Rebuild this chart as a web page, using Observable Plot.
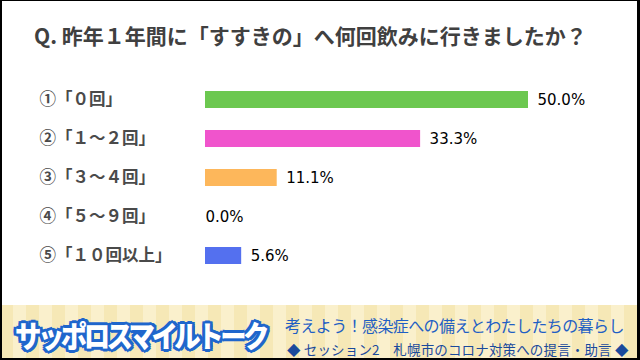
<!DOCTYPE html>
<html><head><meta charset="utf-8">
<script src="https://cdn.jsdelivr.net/npm/d3@7"></script>
<script src="https://cdn.jsdelivr.net/npm/@observablehq/plot@0.6"></script>
<style>
html,body{margin:0;padding:0;background:#fff;}
#wrap{position:relative;width:640px;height:360px;overflow:hidden;background:#fff;font-family:"Noto Sans CJK JP","Noto Sans",sans-serif;}
#frame{position:absolute;left:0;top:0;width:640px;height:360px;box-sizing:border-box;border-left:2px solid #000;border-right:3px solid #000;border-top:1px solid #000;border-bottom:2px solid #000;pointer-events:none;z-index:5;}
#title{position:absolute;left:34px;top:21px;font-size:21px;font-weight:700;color:#404040;line-height:28px;white-space:nowrap;}
#chart{position:absolute;left:0;top:60px;}
#banner{position:absolute;left:0;top:305px;width:640px;height:55px;background:repeating-linear-gradient(to right,#f6e8b6 0px,#f6e8b6 13px,#faf0cc 13px,#faf0cc 26px);}
#logo{position:absolute;left:15px;top:12px;font-size:30px;font-weight:900;color:#fff;letter-spacing:-4px;line-height:34px;white-space:nowrap;transform-origin:0 50%;transform:scaleX(0.88);
text-shadow:2px 0 #1f66cc,-2px 0 #1f66cc,0 2px #1f66cc,0 -2px #1f66cc,2px 2px #1f66cc,-2px -2px #1f66cc,2px -2px #1f66cc,-2px 2px #1f66cc,3px 0 #1f66cc,-3px 0 #1f66cc,0 3px #1f66cc,0 -3px #1f66cc,3px 2px #1f66cc,-3px 2px #1f66cc,3px -2px #1f66cc,-3px -2px #1f66cc;}
#l1{position:absolute;left:285px;top:9px;font-size:16px;color:#1f5fc4;line-height:22px;white-space:nowrap;letter-spacing:-0.6px;}
#l2{position:absolute;left:287px;top:35px;font-size:13.5px;color:#1a4a9c;line-height:18px;white-space:nowrap;letter-spacing:0.15px;}
</style></head>
<body>
<div id="wrap">
  <div id="title"></div>
  <div id="chart"></div>
  <div id="banner">
    <div id="logo">サッポロスマイルトーク</div>
    <div id="l1">考えよう！感染症への備えとわたしたちの暮らし</div>
    <div id="l2">◆ セッション2　札幌市のコロナ対策への提言・助言 ◆</div>
  </div>
  <div id="frame"></div>
</div>
<script>
const titleText = "Q. 昨年１年間に「すすきの」へ何回飲みに行きましたか？";
const categories = ["①「０回」", "②「１～２回」", "③「３～４回」", "④「５～９回」", "⑤「１０回以上」"];
const values = [50.0, 33.3, 11.1, 0.0, 5.6];
const colors = ["#6cc850", "#f054cc", "#fdb75b", "#ffffff", "#5470ef"];

document.getElementById("title").textContent = titleText;
const data = categories.map((c, i) => ({cat: c, value: values[i], color: colors[i]}));
const fmt = d => d.value.toFixed(1) + "%";

const chart = Plot.plot({
  width: 640,
  height: 240,
  marginLeft: 205,
  marginRight: 112,
  marginTop: 6.4,
  marginBottom: 12.4,
  x: {domain: [0, 50], axis: null},
  y: {domain: categories, axis: null, padding: 0.57},
  style: {background: "transparent", overflow: "visible"},
  marks: [
    Plot.barX(data.filter(d => d.value > 0), {x: "value", y: "cat", fill: "color"}),
    Plot.text(data, {y: "cat", text: "cat", frameAnchor: "left", dx: -166, textAnchor: "start",
      fill: "#4a4a4a", fontSize: 16.5, fontWeight: 700, fontFamily: "Noto Sans CJK JP"}),
    Plot.text(data.filter(d => d.value > 0), {x: "value", y: "cat", text: fmt, dx: 9, textAnchor: "start",
      fill: "#000", fontSize: 15, fontFamily: "DejaVu Sans"}),
    Plot.text(data.filter(d => d.value === 0), {x: "value", y: "cat", text: fmt, dx: 0, textAnchor: "start",
      fill: "#000", fontSize: 15, fontFamily: "DejaVu Sans"})
  ]
});
document.getElementById("chart").appendChild(chart);
</script>
</body></html>
